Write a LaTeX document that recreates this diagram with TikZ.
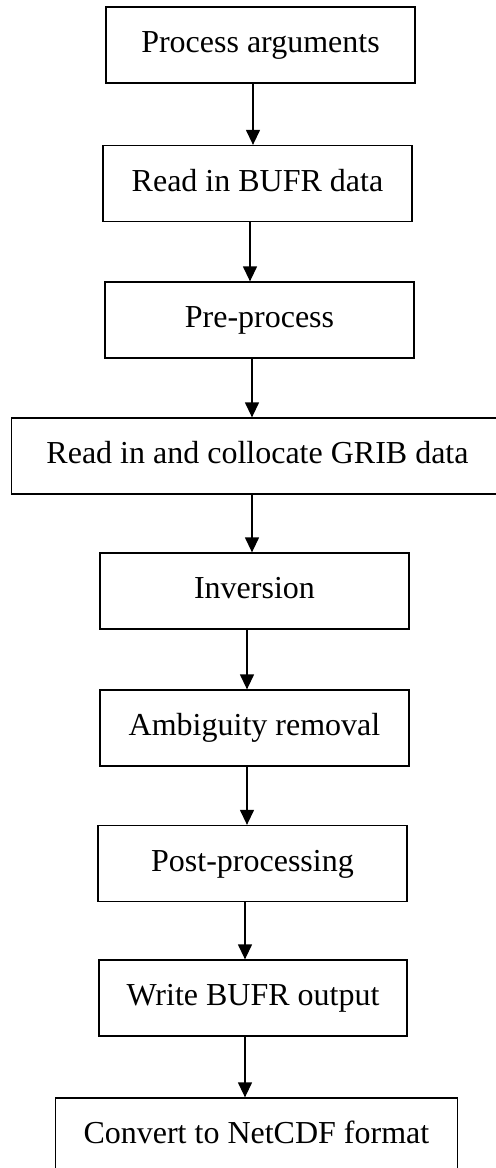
\documentclass[tikz,border=0pt]{standalone}
\usepackage{fontspec}
\setmainfont{Liberation Serif}
\usetikzlibrary{arrows.meta}

\begin{document}
\begin{tikzpicture}[x=0.5pt,y=-0.5pt,
    box/.style={shape=rectangle,draw=black,line width=0.65pt,inner sep=0pt,
      minimum height=38pt,text height=0.92em,text depth=0.15em,
      font=\fontsize{16}{19}\selectfont},
    flow/.style={-{Triangle[width=7pt,length=7.5pt]},line width=0.65pt}]
      \useasboundingbox (0,0) rectangle (496,1168);
      \node[box,minimum width=154.5pt] (args)    at (260.5,45)   {Process arguments};
      \node[box,minimum width=154.5pt] (bufr)    at (257.5,183.5){Read in BUFR data};
      \node[box,minimum width=154.5pt] (pre)     at (259.5,320)  {Pre-process};
      \node[box,minimum width=246pt]   (grib)    at (257.5,456)  {Read in and collocate GRIB data};
      \node[box,minimum width=154.5pt] (inv)     at (254.5,591)  {Inversion};
      \node[box,minimum width=154.5pt] (ambig)   at (254.5,728)  {Ambiguity removal};
      \node[box,minimum width=154.5pt] (post)    at (252.5,863.5){Post-processing};
      \node[box,minimum width=154pt]   (write)   at (253,998)    {Write BUFR output};
      \node[box,minimum width=201pt]   (netcdf)  at (256.4,1136) {Convert to NetCDF format};
      \draw[flow] (args.south -| 253,0)  -- (bufr.north -| 253,0);
      \draw[flow] (bufr.south -| 250,0)  -- (pre.north -| 250,0);
      \draw[flow] (pre.south -| 252,0)   -- (grib.north -| 252,0);
      \draw[flow] (grib.south -| 252,0)  -- (inv.north -| 252,0);
      \draw[flow] (inv.south -| 247,0)   -- (ambig.north -| 247,0);
      \draw[flow] (ambig.south -| 247,0) -- (post.north -| 247,0);
      \draw[flow] (post.south -| 245,0)  -- (write.north -| 245,0);
      \draw[flow] (write.south -| 245,0) -- (netcdf.north -| 245,0);
    \end{tikzpicture}
\end{document}
